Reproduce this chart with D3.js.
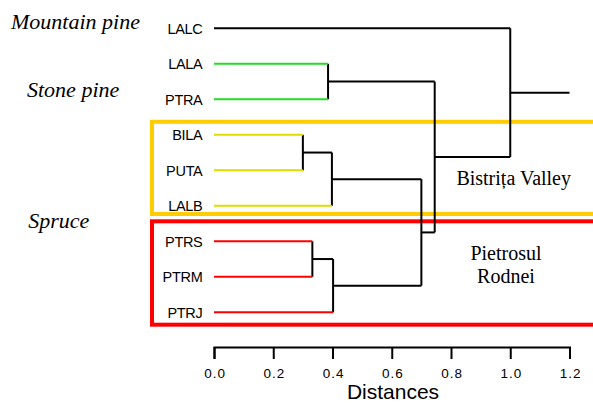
<!DOCTYPE html>
<html>
<head>
<meta charset="utf-8">
<script src="https://cdn.jsdelivr.net/npm/d3@7"></script>
<style>
  html, body { margin: 0; padding: 0; background: #fff; }
  svg { display: block; }
</style>
</head>
<body>
<svg id="chart" width="593" height="403"></svg>
<script>
// ---- data ----
const leaves = ["LALC", "LALA", "PTRA", "BILA", "PUTA", "LALB", "PTRS", "PTRM", "PTRJ"];
const leafGroups = ["mountain", "stone", "stone", "bistrita", "bistrita", "bistrita", "rodnei", "rodnei", "rodnei"];
// hclust-style merges: negative = leaf index (1-based), positive = earlier merge (1-based)
const mergeA = [-4, -7, -2, 1, 2, 4, 3, -1];
const mergeB = [-5, -8, -3, -6, -9, 5, 6, 7];
const mergeHeights = [0.30, 0.332, 0.385, 0.398, 0.402, 0.70, 0.745, 1.00];
const rootTail = 1.2;
const tickValues = [0.0, 0.2, 0.4, 0.6, 0.8, 1.0, 1.2];
const axisTitle = "Distances";
const speciesLabels = ["Mountain pine", "Stone pine", "Spruce"];
const regionLabels = ["Bistrița Valley", ["Pietrosul", "Rodnei"]];

// ---- styles ----
const leafColors = { mountain: "#000000", stone: "#22dd22", bistrita: "#dddd00", rodnei: "#ff0000" };

const svg = d3.select("#chart");
const x = d3.scaleLinear().domain([0, 1.2]).range([214, 569.5]);
const y = d3.scalePoint().domain(leaves).range([28.3, 312.3]);

// compute node positions
const nodes = [];
function nodeY(idx) { return idx < 0 ? y(leaves[-idx - 1]) : nodes[idx - 1].y; }
const parentH = {};
mergeHeights.forEach((h, i) => {
  const a = mergeA[i], b = mergeB[i];
  nodes.push({ h, y: (nodeY(a) + nodeY(b)) / 2, a, b });
  parentH[a] = h; parentH[b] = h;
});
parentH[mergeHeights.length] = rootTail;

// boxes
svg.append("rect")
  .attr("x", 152).attr("y", y("BILA") - 13)
  .attr("width", 500).attr("height", y("LALB") + 8.2 - (y("BILA") - 13))
  .attr("fill", "none").attr("stroke", "#ffcc00").attr("stroke-width", 4);
svg.append("rect")
  .attr("x", 152).attr("y", y("PTRS") - 20)
  .attr("width", 500).attr("height", y("PTRJ") + 12.4 - (y("PTRS") - 20))
  .attr("fill", "none").attr("stroke", "#ff0000").attr("stroke-width", 4);

const g = svg.append("g");

// internal nodes: vertical + horizontal to parent
nodes.forEach((n, i) => {
  const key = i + 1;
  g.append("line")
    .attr("x1", x(n.h)).attr("x2", x(n.h))
    .attr("y1", nodeY(n.a)).attr("y2", nodeY(n.b))
    .attr("stroke", "#000").attr("stroke-width", 2);
  g.append("line")
    .attr("x1", x(n.h)).attr("x2", x(parentH[key]))
    .attr("y1", n.y).attr("y2", n.y)
    .attr("stroke", "#000").attr("stroke-width", 2);
});

// leaves
leaves.forEach((name, i) => {
  const key = -(i + 1);
  g.append("line")
    .attr("x1", x(0)).attr("x2", x(parentH[key]))
    .attr("y1", y(name)).attr("y2", y(name))
    .attr("stroke", leafColors[leafGroups[i]]).attr("stroke-width", 2);
  svg.append("text")
    .attr("x", 202.5).attr("y", y(name) + 5.5)
    .attr("text-anchor", "end")
    .attr("font-family", "Liberation Sans, Arial, sans-serif")
    .attr("font-size", "14.5px")
    .attr("letter-spacing", "-0.3px")
    .attr("fill", "#000")
    .text(name);
});

// axis
const axis = d3.axisBottom(x).tickValues(tickValues).tickSize(12).tickFormat(d3.format(".1f"));
const ag = svg.append("g").attr("transform", "translate(0,347)").call(axis);
ag.select(".domain").attr("stroke", "#000").attr("stroke-width", 2);
ag.selectAll(".tick line").attr("stroke", "#000").attr("stroke-width", 2);
ag.selectAll(".tick text")
  .attr("x", 0.6)
  .attr("y", 31).attr("dy", null)
  .attr("font-family", "Liberation Sans, Arial, sans-serif")
  .attr("font-size", "13.5px")
  .attr("letter-spacing", "1px")
  .attr("fill", "#000");

svg.append("text")
  .attr("x", 393).attr("y", 398.5)
  .attr("text-anchor", "middle")
  .attr("font-family", "Liberation Sans, Arial, sans-serif")
  .attr("font-size", "21px")
  .text(axisTitle);

// species labels
const serif = "Liberation Serif, Times New Roman, serif";
const spPos = [[11, 29.3], [27, 96.7], [28.3, 228.3]];
speciesLabels.forEach((t, i) => {
  svg.append("text")
    .attr("x", spPos[i][0]).attr("y", spPos[i][1])
    .attr("font-family", serif).attr("font-style", "italic")
    .attr("font-size", "22px").text(t);
});

// region labels
svg.append("text")
  .attr("x", 513.7).attr("y", 185)
  .attr("text-anchor", "middle")
  .attr("font-family", serif).attr("font-size", "20px")
  .text(regionLabels[0]);
regionLabels[1].forEach((t, i) => {
  svg.append("text")
    .attr("x", 506).attr("y", 260 + i * 23)
    .attr("text-anchor", "middle")
    .attr("font-family", serif).attr("font-size", "20px")
    .text(t);
});
</script>
</body>
</html>
